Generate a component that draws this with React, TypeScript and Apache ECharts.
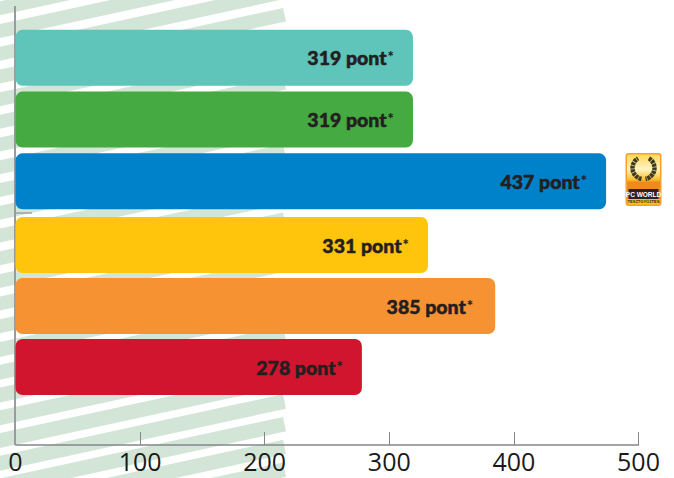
import React, { useEffect, useRef } from "react";
import * as echarts from "echarts";

const topProducts = ["A", "B", "C"];
const bottomProducts = ["D", "E", "F"];
const topValues = [319, 319, 474];
const bottomValues = [331, 385, 278];
const topLabels = ["319", "319", "437"];
const bottomLabels = ["331", "385", "278"];
const topColors = ["#5fc4b9", "#46aa42", "#0082ca"];
const bottomColors = ["#ffc40c", "#f79232", "#d2152f"];
const axisTicks = [0, 100, 200, 300, 400, 500];

function stripes() {
  const out: any[] = [];
  const slope = 0.217;
  for (let k = -4; k < 21; k++) {
    const yr = 8 + 22.72 * k;
    const leftShift = slope * 283;
    const thick = k >= 12 ? 15 : 14;
    out.push({
      type: "polygon",
      silent: true,
      z: 0,
      shape: {
        points: [
          [0, yr + leftShift],
          [283, yr],
          [286, yr + thick - 0.6],
          [0, yr + leftShift + thick],
        ],
      },
      style: { fill: "#d3e5d6" },
    });
  }
  return out;
}

function logo() {
  return {
    type: "group",
    x: 625.5,
    y: 153,
    z: 5,
    children: [
      {
        type: "rect",
        shape: { x: 0, y: 0, width: 36, height: 53, r: 3 },
        style: { fill: "#f8a12e" },
      },
      {
        type: "rect",
        shape: { x: 1.5, y: 1.5, width: 33, height: 50, r: 2 },
        style: {
          fill: {
            type: "linear",
            x: 0,
            y: 0,
            x2: 0,
            y2: 1,
            colorStops: [
              { offset: 0, color: "#ffd75a" },
              { offset: 0.3, color: "#fff4c0" },
              { offset: 0.5, color: "#fbc02d" },
              { offset: 0.56, color: "#f18a1c" },
              { offset: 1, color: "#f18a1c" },
            ],
          },
        },
      },
      {
        type: "arc",
        shape: { cx: 18, cy: 15, r: 11, startAngle: 1.75, endAngle: 4.2, clockwise: true },
        style: { stroke: "#3d3a22", fill: "none", lineWidth: 4.5, lineDash: [3, 0.6] },
      },
      {
        type: "arc",
        shape: { cx: 18, cy: 15, r: 11, startAngle: -1.06, endAngle: 1.39, clockwise: true },
        style: { stroke: "#3d3a22", fill: "none", lineWidth: 4.5, lineDash: [3, 0.6] },
      },
      { type: "rect", shape: { x: 3, y: 36, width: 30, height: 10 }, style: { fill: "#2a2420" } },
      {
        type: "text",
        x: 18,
        y: 41,
        style: {
          text: "PC WORLD",
          fill: "#ffffff",
          font: "bold 6.5px 'Liberation Sans Narrow', 'Liberation Sans'",
          align: "center",
          verticalAlign: "middle",
        },
      },
      { type: "rect", shape: { x: 2, y: 46, width: 32, height: 5.5 }, style: { fill: "#fdc70c" } },
      {
        type: "text",
        x: 18,
        y: 48.8,
        style: {
          text: "TESZTGYŐZTES",
          fill: "#2a2420",
          font: "bold 4px 'Liberation Sans'",
          align: "center",
          verticalAlign: "middle",
        },
      },
    ],
  };
}

function barSeries(values: number[], labels: string[], colors: string[], axisIndex: number) {
  return {
    type: "bar",
    xAxisIndex: axisIndex,
    yAxisIndex: axisIndex,
    barWidth: 56,
    data: values.map((v, i) => ({
      value: v,
      itemStyle: { color: colors[i], borderRadius: 7 },
      label: {
        formatter: `{a|${labels[i]} pont}{b|*}`,
        distance: labels[i] === "385" ? 22 : 19,
      },
    })),
    label: {
      show: true,
      position: "insideRight",
      rich: {
        a: {
          fontFamily: "Lato",
          fontWeight: 900,
          fontSize: 19.5,
          color: "#231f20",
          textBorderColor: "#231f20",
          textBorderWidth: 0.5,
        },
        b: { fontFamily: "Lato", fontWeight: 900, fontSize: 15, color: "#231f20", padding: [0, 0, 3, 1] },
      },
    },
  };
}

export default function App() {
  const ref = useRef<HTMLDivElement>(null);
  useEffect(() => {
    document.body.style.margin = "0";
    const chart = echarts.init(ref.current!, undefined, { renderer: "svg" });
    chart.setOption({
      animation: false,
      backgroundColor: "#ffffff",
      grid: [
        { left: 15.5, right: 35.5, top: 27, height: 185.2 },
        { left: 15.5, right: 35.5, top: 214.5, height: 183 },
      ],
      xAxis: [
        { type: "value", gridIndex: 0, min: 0, max: 500, show: false },
        {
          type: "value",
          gridIndex: 1,
          min: 0,
          max: 500,
          interval: 100,
          offset: 47.5,
          splitLine: { show: false },
          axisLine: { show: true, lineStyle: { color: "#85878a", width: 1.5 } },
          axisTick: { show: true, inside: true, length: 13, lineStyle: { color: "#85878a", width: 1 } },
          axisLabel: {
            margin: 3,
            fontFamily: "Open Sans",
            fontSize: 25,
            color: "#1a1a1a",
            customValues: axisTicks,
          },
        },
      ],
      yAxis: [
        { type: "category", gridIndex: 0, inverse: true, data: topProducts, show: false },
        { type: "category", gridIndex: 1, inverse: true, data: bottomProducts, show: false },
      ],
      series: [
        barSeries(topValues, topLabels, topColors, 0),
        barSeries(bottomValues, bottomLabels, bottomColors, 1),
      ],
      graphic: [
        ...stripes(),
        {
          type: "line",
          z: 1,
          silent: true,
          shape: { x1: 15, y1: 6, x2: 15, y2: 445 },
          style: { stroke: "#9a9b9e", lineWidth: 2 },
        },
        {
          type: "line",
          z: 1,
          silent: true,
          shape: { x1: 16, y1: 213, x2: 32, y2: 213 },
          style: { stroke: "#7f8083", lineWidth: 1 },
        },
        logo(),
      ],
    });
    return () => chart.dispose();
  }, []);
  return <div ref={ref} style={{ width: 674, height: 478 }} />;
}
